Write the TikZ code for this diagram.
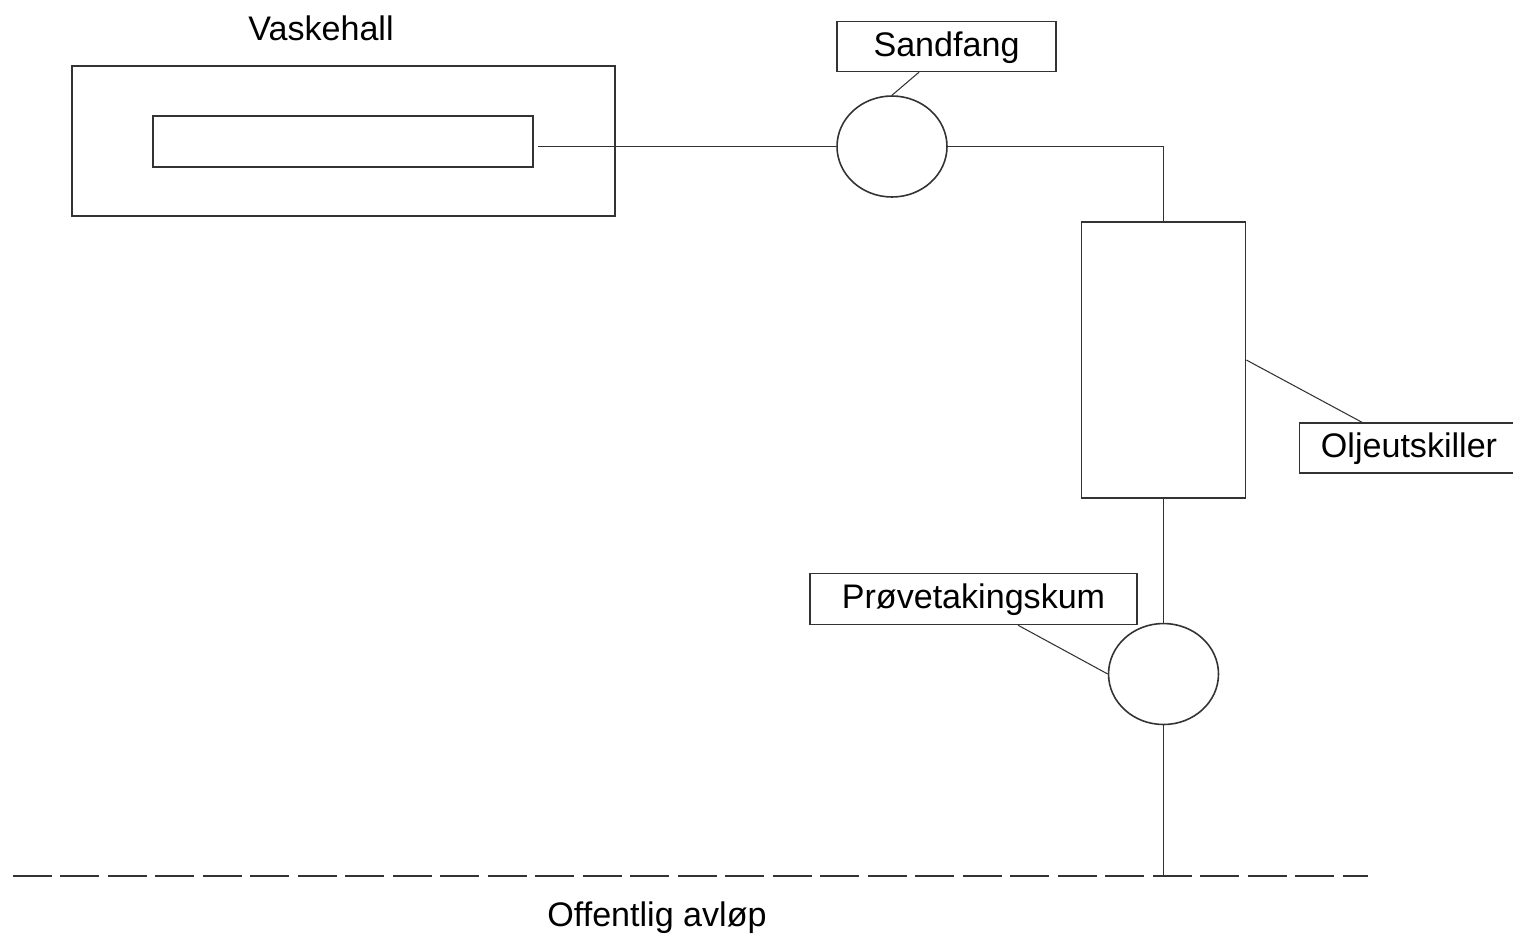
\documentclass[tikz,border=0pt]{standalone}
\usepackage{fontspec}
\setmainfont{Liberation Sans}
\usetikzlibrary{shapes.geometric}

\begin{document}
\begin{tikzpicture}[x=0.02cm,y=-0.02cm,
	every node/.style={font=\fontsize{19.4}{23}\selectfont},
	pipe/.style={draw=black!80,line width=1pt},
	unit/.style={shape=rectangle,draw=black!80,line width=1pt,inner sep=0pt},
	kum/.style={shape=ellipse,draw=black!80,line width=0.9pt,inner sep=0pt,
		minimum width=2.2cm,minimum height=2.02cm},
	tag/.style={shape=rectangle,draw=black!80,line width=0.8pt,inner sep=0pt,
		minimum height=1.0cm,text depth=0.1cm}]
	\useasboundingbox (0,0) rectangle (1513,937);
	% create the nodes.
	\node (hall) [unit,minimum width=10.86cm,minimum height=3cm] at (343.5,141) {};
	\node (hallname) at (321,28) {Vaskehall};
	\node (vask) [unit,minimum width=7.6cm,minimum height=1.02cm] at (343,141.5) {};
	\node (sandfang) [kum] at (892,146.5) {};
	\node (sandlbl) [tag,minimum width=4.38cm] at (946.5,46.5) {Sandfang};
	\node (olje) [unit,minimum width=3.28cm,minimum height=5.52cm] at (1163.5,360) {};
	\node (oljelbl) [tag,minimum width=4.38cm] at (1409,448) {Oljeutskiller};
	\node (provekum) [kum] at (1163.5,674) {};
	\node (provelbl) [tag,minimum width=6.54cm,minimum height=1.02cm] at (973.5,599) {Prøvetakingskum};
	\node (avlopname) at (657,918) {Offentlig avløp};
	\coordinate (pipein) at (538,146.5);
	\coordinate (avlop) at (1163.5,876);
	\coordinate (avlopwest) at (13,876);
	\coordinate (avlopeast) at (1368,876);

	% connect the nodes
	\draw[pipe] (pipein) -- (sandfang.west);
	\draw[pipe] (sandfang.east) -| (olje.north);
	\draw[pipe] (olje.south) -- (provekum.north);
	\draw[pipe] (provekum.south) -- (avlop);
	\draw[pipe,dash pattern=on 0.78cm off 0.17cm] (avlopwest) -- (avlopeast);

	% label leaders
	\draw[draw=black!80,line width=0.6pt] ([xshift=-0.55cm]sandlbl.south) -- (sandfang.north);
	\draw[draw=black!80,line width=0.6pt] (olje.east) -- ([xshift=-0.94cm]oljelbl.north);
	\draw[draw=black!80,line width=0.6pt] ([xshift=0.89cm]provelbl.south) -- (provekum.west);
\end{tikzpicture}
\end{document}
